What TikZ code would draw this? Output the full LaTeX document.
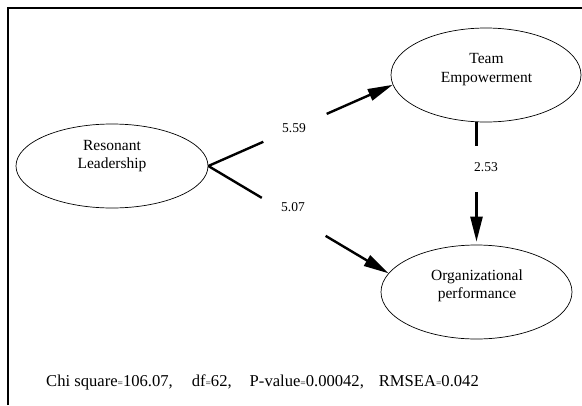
\documentclass[tikz,border=0pt]{standalone}
\usepackage{fontspec}
\setmainfont{Liberation Serif}
\usetikzlibrary{shapes.geometric,arrows.meta}
\newcommand\smeq{\raisebox{-0.8pt}{\fontsize{9.5}{10}\selectfont =}}
\begin{document}
\begin{tikzpicture}[x=1pt,y=-1pt,
 latent/.style={draw, ellipse, line width=0.7pt, inner sep=0pt},
 ntext/.style={align=center, font=\fontsize{15.5}{18.5}\selectfont, inner sep=0pt},
 coef/.style={font=\fontsize{13.5}{16}\selectfont, inner sep=0pt},
 pathedge/.style={line width=2.4pt, -{Triangle[length=25pt,width=12pt]}},
 gapbox/.style={fill=white, inner sep=0pt, minimum height=8pt, sloped}]
\useasboundingbox (0,0) rectangle (582,405);
\draw[line width=2pt] (8,405) -- (8,8) -- (582,8);

\node[latent, minimum width=192pt, minimum height=84pt] (rl) at (112,166) {};
\node[latent, minimum width=190pt, minimum height=94pt] (te) at (486,75) {};
\node[latent, minimum width=191pt, minimum height=94pt] (op) at (476.5,292) {};

\node[ntext] (rlt) at (112,156) {Resonant\\Leadership};
\node[ntext] (tet) at (486.5,69.5) {Team\\Empowerment};
\node[ntext] (opt) at (477,286) {Organizational\\performance};

\draw[pathedge] (rl.east) -- node[gapbox, pos=0.47, minimum width=69pt] (g1) {} (te.186);
\draw[pathedge] (rl.east) -- node[gapbox, pos=0.474, minimum width=74pt] (g2) {} (op.168);
\draw[pathedge, shorten >=3pt] (te.south -| op.north) -- node[gapbox, pos=0.382, minimum width=46pt] (g3) {} (op.north);

\node[coef] (c1) at (294,128) {5.59};
\node[coef] (c2) at (293,207) {5.07};
\node[coef] (c3) at (486,167) {2.53};

\node[anchor=base west, font=\fontsize{16.6}{20}\selectfont, inner sep=0pt] (fitstat) at (46,386)
 {Chi square\smeq106.07,\hspace{19pt}df\smeq62,\hspace{18pt}P-value\smeq0.00042,\hspace{15pt}RMSEA\smeq0.042};
\end{tikzpicture}
\end{document}
